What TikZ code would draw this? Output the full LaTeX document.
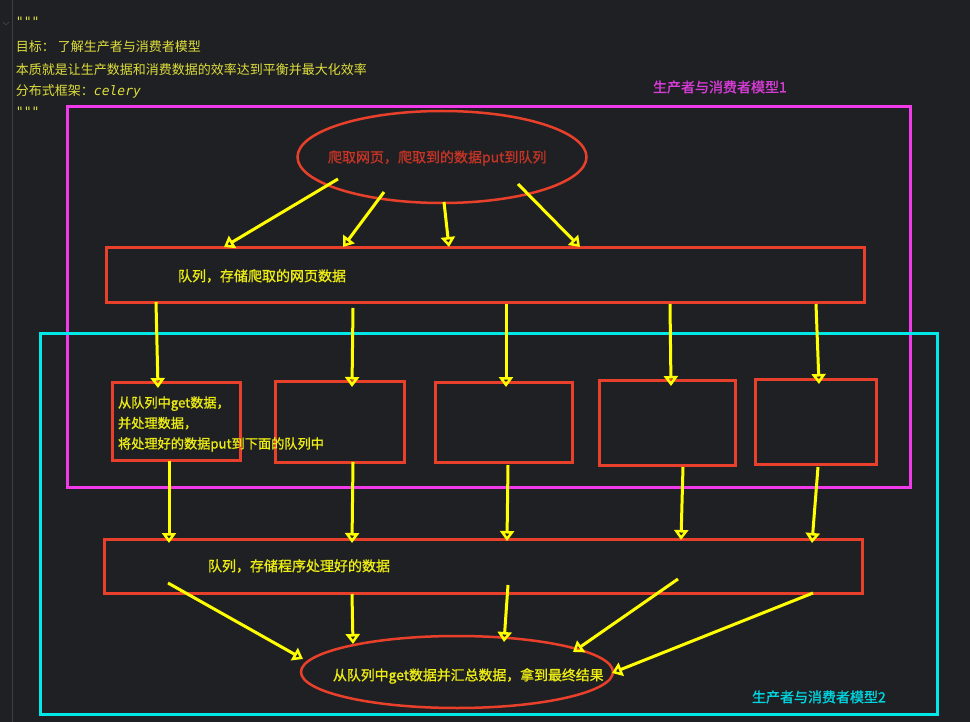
\documentclass[tikz,border=0pt]{standalone}
\usepackage{fontspec}
\usepackage{tikz}
\usetikzlibrary{shapes.geometric,arrows.meta,calc}
\setmonofont{DejaVu Sans Mono}
\newfontfamily\cjk{Noto Sans CJK SC}
\newfontfamily\cjkbold{Noto Sans CJK SC}[FakeBold=1.2]
\definecolor{bgdark}{RGB}{31,32,35}
\definecolor{gutterline}{RGB}{60,61,65}
\definecolor{boxred}{RGB}{232,64,42}
\definecolor{textred}{RGB}{196,52,38}
\definecolor{magentaline}{RGB}{242,58,235}
\definecolor{magentatext}{RGB}{214,60,214}
\definecolor{cyanline}{RGB}{0,232,232}
\definecolor{cyantext}{RGB}{0,212,222}
\definecolor{arrowyellow}{RGB}{255,255,0}
\definecolor{textyellow}{RGB}{236,236,20}
\definecolor{notetext}{RGB}{222,222,60}

\begin{document}
\begin{tikzpicture}[x=1pt,y=-1pt]
	\tikzstyle{every node}+=[inner sep=0pt,outer sep=0pt]
	\tikzstyle{frame}=[rectangle,line width=3pt,anchor=north west]
	\tikzstyle{redbox}=[draw=boxred,line width=3pt,rectangle,anchor=north west]
	\tikzstyle{redoval}=[draw=boxred,line width=2.5pt,ellipse]
	\tikzstyle{flow}=[draw=arrowyellow,line width=3pt,-{Triangle[open,length=10pt,width=14pt,line width=2.6pt]}]
	\tikzstyle{lbl}=[text=textyellow,font=\cjkbold\fontsize{14}{14}\selectfont,anchor=west]
	\tikzstyle{note}=[text=notetext,font=\cjk\fontsize{13}{13}\selectfont,anchor=west]

	\fill[bgdark] (0,0) rectangle (970,722);
	\useasboundingbox (0,0) rectangle (970,722);
	\draw[gutterline,line width=1pt] (12,0) -- (12,722);
	\draw[gutterline,line width=0.8pt] (3,22) -- (6,25) -- (9,22);

	\node[note] (quoteopen) at (16,22) {\ttfamily """};
	\node[note] (goal) at (16,47) {目标： 了解生产者与消费者模型};
	\node[note] (essence) at (16,70) {本质就是让生产数据和消费数据的效率达到平衡并最大化效率};
	\node[note] (framework) at (16,91) {分布式框架：\ttfamily\itshape celery};
	\node[note] (quoteclose) at (16,112) {\ttfamily """};

	\node[frame,draw=magentaline,minimum width=843pt,minimum height=380pt] (model1) at (67,107) {};
	\node[frame,draw=cyanline,minimum width=897pt,minimum height=380pt] (model2) at (40,334) {};
	\node[lbl,text=magentatext] (model1lbl) at (653,87) {生产者与消费者模型1};
	\node[lbl,text=cyantext] (model2lbl) at (752,697) {生产者与消费者模型2};

	\node[redoval,minimum width=289pt,minimum height=92pt] (crawl) at (442,157) {};
	\node[redbox,minimum width=758pt,minimum height=55pt] (q1) at (106,248) {};
	\node[redbox,minimum width=128pt,minimum height=78pt] (w1) at (112,382) {};
	\node[redbox,minimum width=129pt,minimum height=81pt] (w2) at (275,381) {};
	\node[redbox,minimum width=137pt,minimum height=80pt] (w3) at (435,382) {};
	\node[redbox,minimum width=136pt,minimum height=85pt] (w4) at (599,380) {};
	\node[redbox,minimum width=121pt,minimum height=85pt] (w5) at (755,379) {};
	\node[redbox,minimum width=758pt,minimum height=54pt] (q2) at (104,539) {};
	\node[redoval,minimum width=312pt,minimum height=72pt] (result) at (457,672) {};

	\node[lbl,text=textred] (crawltxt) at (328,158) {爬取网页，爬取到的数据put到队列};
	\node[lbl] (q1txt) at (178,276) {队列，存储爬取的网页数据};
	\node[lbl,font=\cjkbold\fontsize{13.2}{20.5}\selectfont,align=left] (w1txt) at (118,424) {从队列中get数据，\\并处理数据，\\将处理好的数据put到下面的队列中};
	\node[lbl] (q2txt) at (208,566) {队列，存储程序处理好的数据};
	\node[lbl,font=\cjkbold\fontsize{13.9}{13.9}\selectfont] (resulttxt) at (333,676) {从队列中get数据并汇总数据，拿到最终结果};

	\draw[flow] ($(crawl.center)+(-104,22)$) -- ($(q1.north west)+(118,-1)$);
	\draw[flow] ($(crawl.center)+(-58,35)$) -- ($(q1.north west)+(237,-1)$);
	\draw[flow] ($(crawl.center)+(2,45)$) -- ($(q1.north west)+(343,-1)$);
	\draw[flow] ($(crawl.center)+(76,27)$) -- ($(q1.north west)+(474,-1)$);

	\draw[flow] ($(q1.south west)+(50,-1)$) -- ($(w1.north west)+(46,6)$);
	\draw[flow] ($(q1.south west)+(247,5)$) -- ($(w2.north west)+(77,6)$);
	\draw[flow] ($(q1.south west)+(400,1)$) -- ($(w3.north west)+(71,5)$);
	\draw[flow] ($(q1.south west)+(564,1)$) -- ($(w4.north west)+(72,6)$);
	\draw[flow] ($(q1.south west)+(710,1)$) -- ($(w5.north west)+(64,5)$);

	\draw[flow] ($(w1.south west)+(57,1)$) -- ($(q2.north west)+(65,4)$);
	\draw[flow] ($(w2.south west)+(78,0)$) -- ($(q2.north west)+(248,4)$);
	\draw[flow] ($(w3.south west)+(73,3)$) -- ($(q2.north west)+(403,2)$);
	\draw[flow] ($(w4.south west)+(84,2)$) -- ($(q2.north west)+(577,1)$);
	\draw[flow] ($(w5.south west)+(63,3)$) -- ($(q2.north west)+(708,4)$);

	\draw[flow] ($(q2.north west)+(64,44)$) -- ($(result.center)+(-154,-13)$);
	\draw[flow] ($(q2.south west)+(248,1)$) -- ($(result.center)+(-104,-28)$);
	\draw[flow] ($(q2.north west)+(404,46)$) -- ($(result.center)+(47,-30)$);
	\draw[flow] ($(q2.north west)+(574,40)$) -- ($(result.center)+(116,-20)$);
	\draw[flow] ($(q2.south west)+(709,0)$) -- ($(result.center)+(155,1)$);
\end{tikzpicture}
\end{document}
